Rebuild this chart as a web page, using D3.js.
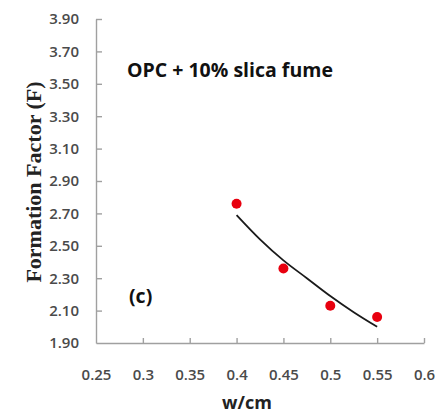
<!DOCTYPE html>
<html>
<head>
<meta charset="utf-8">
<script src="https://cdn.jsdelivr.net/npm/d3@7"></script>
<style>
  body { margin: 0; background: #fff; }
  .tick text { font-family: "Open Sans", sans-serif; font-size: 15px; font-weight: 600; fill: #4a4a4a; }
  .axis path, .axis line { stroke: #a0a0a0; stroke-width: 1.4; }
</style>
</head>
<body>
<div id="chart"></div>
<script>
const WIDTH = 435, HEIGHT = 417;
const M = { top: 19, right: 11, bottom: 74, left: 96 };
const innerW = WIDTH - M.left - M.right;
const innerH = HEIGHT - M.top - M.bottom;

// measured points
const wcm = [0.40, 0.45, 0.50, 0.55];
const formationF = [2.76, 2.36, 2.13, 2.06];

// fitted trend line
const fitX = [0.40, 0.425, 0.45, 0.475, 0.50, 0.525, 0.55];
const fitY = [2.69, 2.54, 2.41, 2.30, 2.19, 2.09, 2.00];

const xTicks = [0.25, 0.3, 0.35, 0.4, 0.45, 0.5, 0.55, 0.6];
const yTicks = [1.9, 2.1, 2.3, 2.5, 2.7, 2.9, 3.1, 3.3, 3.5, 3.7, 3.9];

const svg = d3.select("#chart").append("svg")
  .attr("width", WIDTH).attr("height", HEIGHT);

const g = svg.append("g").attr("transform", `translate(${M.left},${M.top})`);

const x = d3.scaleLinear().domain([0.25, 0.6]).range([0, innerW]);
const y = d3.scaleLinear().domain([1.9, 3.9]).range([innerH, 0]);

// axes, ticks pointing inside
g.append("g").attr("class", "axis")
  .attr("transform", `translate(0,${innerH})`)
  .call(d3.axisBottom(x).tickValues(xTicks).tickSizeInner(-5).tickSizeOuter(0).tickPadding(26)
    .tickFormat(d => String(+d.toFixed(2))))
  .call(a => a.selectAll(".tick").filter(d => d === 0.25).select("line").remove());

g.append("g").attr("class", "axis")
  .call(d3.axisLeft(y).tickValues(yTicks).tickSizeInner(-6).tickSizeOuter(0).tickPadding(17)
    .tickFormat(d3.format(".2f")))
  .call(a => a.selectAll(".tick").filter(d => d === 1.9).select("line").remove());

// trend line
const line = d3.line().x(d => x(d[0])).y(d => y(d[1])).curve(d3.curveMonotoneX);
g.append("path")
  .datum(fitX.map((v, i) => [v, fitY[i]]))
  .attr("d", line)
  .attr("fill", "none").attr("stroke", "#1a1a1a").attr("stroke-width", 1.8);

// points
g.selectAll(".pt").data(wcm).join("circle")
  .attr("class", "pt")
  .attr("cx", d => x(d))
  .attr("cy", (d, i) => y(formationF[i]))
  .attr("r", 5)
  .attr("fill", "#e8000f");

// annotations
svg.append("text")
  .attr("x", 127).attr("y", 77)
  .attr("font-family", "Open Sans, sans-serif").attr("font-weight", 700)
  .attr("font-size", 19.5).attr("fill", "#111")
  .text("OPC + 10% slica fume");

svg.append("text")
  .attr("x", 129).attr("y", 303)
  .attr("font-family", "Open Sans, sans-serif").attr("font-weight", 700)
  .attr("font-size", 19.5).attr("fill", "#111")
  .text("(c)");

// axis titles
svg.append("text")
  .attr("x", 247).attr("y", 409)
  .attr("text-anchor", "middle")
  .attr("font-family", "Open Sans, sans-serif").attr("font-weight", 700)
  .attr("font-size", 18).attr("fill", "#222")
  .text("w/cm");

svg.append("text")
  .attr("transform", "translate(41,182) rotate(-90)")
  .attr("text-anchor", "middle")
  .attr("font-family", "Liberation Serif, serif").attr("font-weight", 700)
  .attr("font-size", 22).attr("fill", "#222")
  .text("Formation Factor (F)");
</script>
</body>
</html>
